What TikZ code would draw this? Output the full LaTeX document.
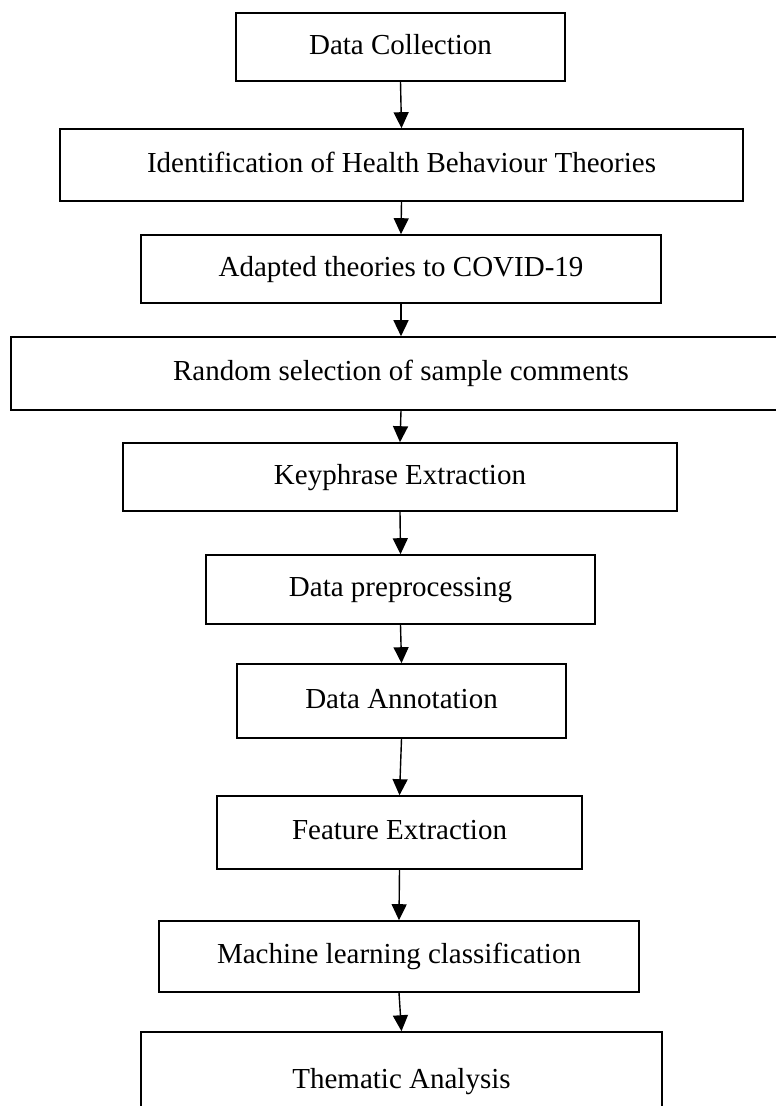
\documentclass[tikz,border=0pt]{standalone}
\usepackage{fontspec}
\setmainfont{Liberation Serif}
\usetikzlibrary{arrows.meta}
\begin{document}
\begin{tikzpicture}[x=1pt,y=-1pt,
  box/.style={draw, line width=1.6pt, inner sep=0pt, text height=21pt, text depth=7pt,
    font=\fontsize{29}{34}\selectfont},
  arr/.style={-{Triangle[width=15pt,length=16pt]}, line width=1.4pt}]
\useasboundingbox (0,0) rectangle (776,1106);
\clip (0,0) rectangle (776,1106);
\node[box, minimum width=329pt, minimum height=68pt] (b1) at (400.5,47) {Data Collection};
\node[box, minimum width=683pt, minimum height=72pt] (b2) at (401.5,165) {Identification of Health Behaviour Theories};
\node[box, minimum width=520pt, minimum height=68pt] (b3) at (401,269) {Adapted theories to COVID-19};
\node[box, minimum width=780pt, minimum height=73pt] (b4) at (401,373.5) {Random selection of sample comments};
\node[box, minimum width=554pt, minimum height=68pt] (b5) at (400,477) {Keyphrase Extraction};
\node[box, minimum width=389pt, minimum height=69pt] (b6) at (400.5,589.5) {Data preprocessing};
\node[box, minimum width=329pt, minimum height=74pt] (b7) at (401.5,701) {Data Annotation};
\node[box, minimum width=365pt, minimum height=73pt] (b8) at (399.5,832.5) {Feature Extraction};
\node[box, minimum width=480pt, minimum height=71pt] (b9) at (399,956.5) {Machine learning classification};
\node[box, minimum width=521pt, minimum height=98pt] (b10) at (401.5,1081) {Thematic Analysis};
\draw[arr] (b1.south) -- (b2.north);
\draw[arr] (b2.south) -- (b3.north);
\draw[arr] (b3.south) -- (b4.north);
\draw[arr] (b4.south) -- (b5.north);
\draw[arr] (b5.south) -- (b6.north);
\draw[arr] (b6.south) -- (b7.north);
\draw[arr] (b7.south) -- (b8.north);
\draw[arr] (b8.south) -- (b9.north);
\draw[arr] (b9.south) -- (b10.north);
\end{tikzpicture}
\end{document}
